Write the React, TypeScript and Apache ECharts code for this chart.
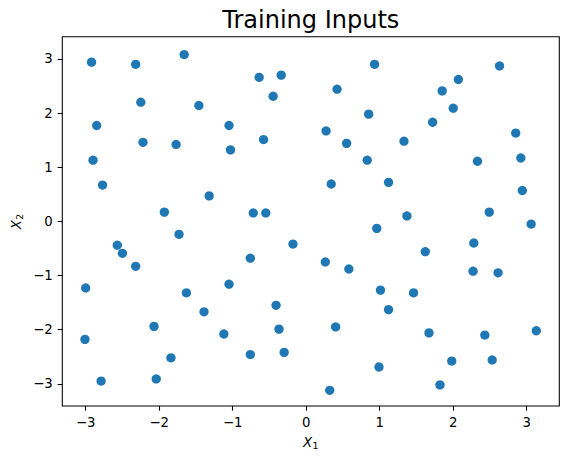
import React, { useEffect, useRef } from "react";
import * as echarts from "echarts";

const x1Values = [
  -2.92, -2.32, -1.66, -2.25, -1.46, -2.85, -2.22, -1.77, -2.9, -2.77, -1.32, -1.93,
  -0.64, -0.34, -0.45, 0.93, 0.42, -1.05, -1.03, -0.58, 0.85, 0.27, 0.55, 0.83, 0.34, -0.72, -0.55,
  2.63, 2.07, 1.85, 2.0, 1.72, 2.85, 1.33, 2.33, 2.92, 1.12, 2.94, 1.37, 2.49,
  -1.73, -2.57, -2.5, -2.32, -3.0, -1.63, -1.39, -1.12, -2.07, -3.01, -1.84, -2.79, -2.04,
  0.96, -0.18, -0.76, 0.26, 0.58, -1.05, 1.01, -0.41, -0.37, 0.4, -0.76, -0.3, 0.99, 0.32,
  3.06, 2.28, 1.62, 2.27, 2.61, 1.46, 1.12, 1.67, 2.43, 3.13, 1.98, 2.53, 1.82,
];
const x2Values = [
  2.94, 2.9, 3.08, 2.2, 2.14, 1.77, 1.46, 1.42, 1.13, 0.67, 0.47, 0.17,
  2.66, 2.7, 2.31, 2.9, 2.44, 1.77, 1.32, 1.51, 1.98, 1.67, 1.44, 1.13, 0.69, 0.155, 0.155,
  2.87, 2.62, 2.41, 2.09, 1.83, 1.63, 1.48, 1.11, 1.17, 0.72, 0.57, 0.1, 0.17,
  -0.24, -0.44, -0.59, -0.83, -1.23, -1.32, -1.67, -2.08, -1.94, -2.18, -2.52, -2.95, -2.91,
  -0.13, -0.42, -0.68, -0.75, -0.88, -1.16, -1.27, -1.55, -1.99, -1.95, -2.46, -2.42, -2.69, -3.12,
  -0.05, -0.4, -0.56, -0.92, -0.95, -1.32, -1.63, -2.06, -2.1, -2.02, -2.58, -2.56, -3.02,
];
const xTicks = [-3, -2, -1, 0, 1, 2, 3];
const yTicks = [-3, -2, -1, 0, 1, 2, 3];
const titleText = "Training Inputs";

const FONT = "DejaVu Sans";
const fmt = (v: number) => (v < 0 ? "\u2212" + Math.abs(v) : String(v));

function axisName(x: number, y: number, sub: string, rotation: number) {
  return {
    type: "group",
    x,
    y,
    rotation,
    children: [
      {
        type: "text",
        x: -7.8,
        y: 0,
        style: {
          text: "X",
          fontFamily: FONT,
          fontStyle: "italic",
          fontSize: 13.3,
          fill: "#000",
          textAlign: "left",
          textVerticalAlign: "middle",
        },
      },
      {
        type: "text",
        x: 1.6,
        y: 3.2,
        style: {
          text: sub,
          fontFamily: FONT,
          fontSize: 9.4,
          fill: "#000",
          textAlign: "left",
          textVerticalAlign: "middle",
        },
      },
    ],
  };
}

export default function App() {
  const ref = useRef<HTMLDivElement>(null);
  useEffect(() => {
    if (!ref.current) return;
    const chart = echarts.init(ref.current, undefined, { renderer: "svg" });
    const data = x1Values.map((v, i) => [v, x2Values[i]]);
    const axisCommon = (ticks: number[]) => ({
      type: "value",
      axisLine: { show: false, onZero: false },
      splitLine: { show: false },
      axisTick: {
        show: true,
        customValues: ticks,
        length: 4.7,
        inside: false,
        lineStyle: { color: "#000", width: 1.07 },
      },
      axisLabel: {
        customValues: ticks,
        formatter: fmt,
        color: "#000",
        fontFamily: FONT,
        fontSize: 13.3,
        margin: 9.5,
      },
    });
    chart.setOption({
      animation: false,
      backgroundColor: "#fff",
      grid: {
        left: 62.3,
        right: 8.7,
        top: 36.7,
        bottom: 56,
        show: true,
        borderColor: "#000",
        borderWidth: 1.07,
        backgroundColor: "transparent",
      },
      xAxis: { ...axisCommon(xTicks), position: "bottom", min: -3.318, max: 3.443 },
      yAxis: { ...axisCommon(yTicks), position: "left", min: -3.41, max: 3.41 },
      series: [
        {
          type: "scatter",
          data,
          symbol: "circle",
          symbolSize: 9.3,
          itemStyle: { color: "#1f77b4", opacity: 1 },
          emphasis: { disabled: true },
        },
      ],
      graphic: [
        {
          type: "text",
          x: 310.8,
          y: 20,
          style: {
            text: titleText,
            fontFamily: FONT,
            fontSize: 24,
            fill: "#000",
            textAlign: "center",
            textVerticalAlign: "middle",
          },
        },
        axisName(310.8, 442, "1", 0),
        axisName(16, 221.4, "2", Math.PI / 2),
      ],
    });
    return () => chart.dispose();
  }, []);
  return (
    <div
      ref={ref}
      style={{ position: "fixed", left: 0, top: 0, width: 568, height: 462 }}
    />
  );
}
